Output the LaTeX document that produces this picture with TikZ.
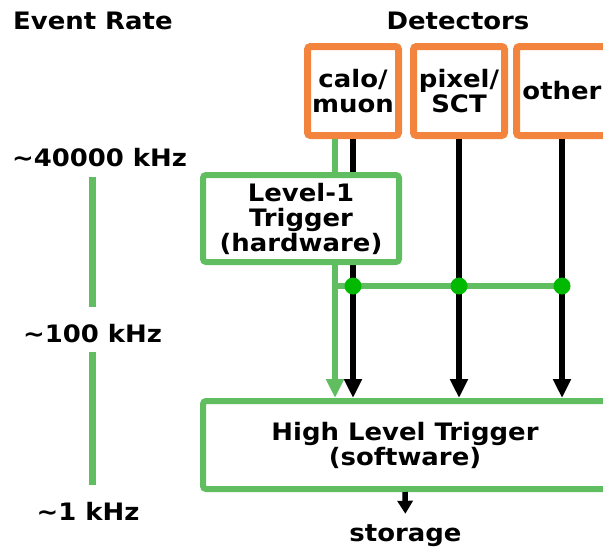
\documentclass[tikz,border=0pt]{standalone}
\usepackage{fontspec}
\setmainfont{DejaVu Sans}[FakeStretch=1.08]
\usetikzlibrary{arrows.meta}
\definecolor{detorange}{RGB}{242,132,62}
\definecolor{trggreen}{RGB}{96,190,96}
\definecolor{dotgreen}{RGB}{0,185,0}
\begin{document}
\begin{tikzpicture}[x=1pt, y=-1pt,
		every node/.style={font=\fontsize{24}{25}\selectfont\bfseries, inner sep=0pt},
		detbox/.style={draw=detorange, line width=7pt, rounded corners=3pt, fill=white, align=center, minimum width=91pt, minimum height=89pt},
		trigbox/.style={draw=trggreen, line width=6pt, rounded corners=3pt, fill=white, align=center},
		ratelabel/.style={anchor=base, text height=18pt, text depth=0pt},
		dataline/.style={line width=6.5pt, -{Triangle[width=17pt,length=19pt]}},
		trigline/.style={trggreen, line width=5.5pt},
		rateline/.style={trggreen, line width=6.5pt, shorten <=10pt, shorten >=17pt},
		tapdot/.style={fill=dotgreen}]
	\useasboundingbox (0,0) rectangle (603,547);
	
	% --- titles ---
	\node[anchor=base west] (evrate) at (13,29) {Event Rate};
	\node[anchor=base] (dets) at (458,29) {Detectors};
	
	% --- event rates ---
	\node[ratelabel] (r40) at (99.5,166.5) {\textasciitilde40000 kHz};
	\node[ratelabel] (r100) at (92.5,342) {\textasciitilde100 kHz};
	\node[ratelabel] (r1) at (88,520) {\textasciitilde1 kHz};
	\draw[rateline] (r40.south -| r100.north) -- (r100.north);
	\draw[rateline] (r100.south) -- (r1.north -| r100.south);
	
	% --- detectors ---
	\node[detbox] (calo) at (353,91) {calo/\\muon};
	\node[detbox] (pixel) at (459,91) {pixel/\\SCT};
	\node[detbox] (other) at (562,91) {other};
	
	% --- high level trigger ---
	\node[trigbox, minimum width=404pt, minimum height=88pt] (hlt) at (405,445) {High Level Trigger\\(software)};
	
	% data paths to the HLT
	\foreach \d in {calo,pixel,other}
		\draw[dataline] (\d.south) -- (\d.south |- hlt.north);
	
	% --- level-1 trigger (over the data path) ---
	\node[trigbox, minimum width=196pt, minimum height=87pt] (lvl1) at (301,218.5) {Level-1\\Trigger\\(hardware)};
	
	\coordinate (tap) at (335,0);
	\coordinate (bus) at (332.5,286);
	\draw[trigline] (calo.south -| tap) -- (lvl1.north -| tap);
	\draw[trigline, -{Triangle[width=17pt,length=19pt]}] (lvl1.south -| tap) -- (hlt.north -| tap);
	\draw[trigline] (bus) -- (bus -| other.south);
	\foreach \d in {calo,pixel,other}
		\fill[tapdot] (\d.south |- bus) circle (8.5pt);
	
	% --- storage ---
	\node[ratelabel] (store) at (405.5,541) {storage};
	\draw[line width=5.5pt, -{Triangle[width=15pt,length=13pt]}, shorten >=9pt] (hlt.south) -- (store.north);
\end{tikzpicture}
\end{document}
